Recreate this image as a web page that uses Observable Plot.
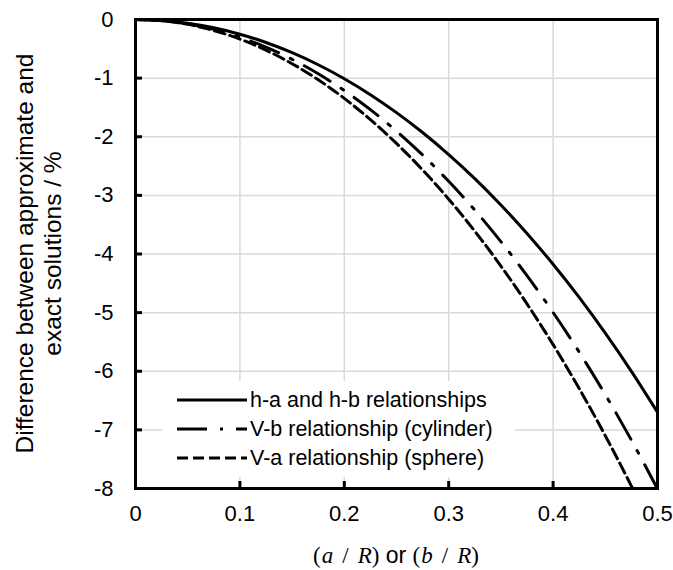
<!DOCTYPE html>
<html><head><meta charset="utf-8">
<script src="https://cdn.jsdelivr.net/npm/d3@7"></script>
<script src="https://cdn.jsdelivr.net/npm/@observablehq/plot@0.6"></script>
<style>
body{margin:0;background:#fff;}
#wrap{position:relative;width:673px;height:570px;font-family:"Liberation Sans",Arial,sans-serif;}
#legend{position:absolute;left:162px;top:381px;width:353px;height:96px;background:#fff;}
.row{position:absolute;left:0;height:28px;display:flex;align-items:center;font-size:21.5px;color:#000;white-space:nowrap;}
.row svg{margin-left:15px;margin-right:3px;}
</style></head><body><div id="wrap"></div>
<script>
// a/R or b/R
const ratio = [0, 0.025, 0.05, 0.075, 0.1, 0.125, 0.15, 0.175, 0.2, 0.225, 0.25, 0.275, 0.3, 0.325, 0.35, 0.375, 0.4, 0.425, 0.45, 0.475, 0.5];
// h-a and h-b relationships (solid)
const hab = [0, -0.016, -0.063, -0.141, -0.251, -0.392, -0.566, -0.772, -1.010, -1.282, -1.588, -1.928, -2.303, -2.714, -3.163, -3.649, -4.174, -4.740, -5.349, -6.001, -6.699];
// V-b relationship (cylinder) (dash-dot)
const vbCyl = [0, -0.019, -0.075, -0.169, -0.301, -0.471, -0.679, -0.926, -1.212, -1.537, -1.904, -2.311, -2.760, -3.251, -3.788, -4.369, -4.997, -5.673, -6.398, -7.175, -8.006];
// V-a relationship (sphere) (dashed)
const vaSph = [0, -0.021, -0.083, -0.188, -0.334, -0.523, -0.754, -1.028, -1.346, -1.708, -2.114, -2.566, -3.065, -3.611, -4.205, -4.850, -5.546, -6.295, -7.099, -7.959, -8.879];
const seriesNames = ["h-a and h-b relationships", "V-b relationship (cylinder)", "V-a relationship (sphere)"];
const xTicks = [0, 0.1, 0.2, 0.3, 0.4, 0.5];
const yTicks = [0, -1, -2, -3, -4, -5, -6, -7, -8];
const yTitle = ["Difference between approximate and", "exact solutions / %"];

const dashes = [null, "30,13,3,13", "11,5"];
const seriesVals = [hab, vbCyl, vaSph];
const rows = seriesVals.map(vals => ratio.map((r, i) => ({x: r, y: vals[i]})));

const W = 673, H = 570, mL = 135, mR = 16, mT = 19, mB = 82;
const innerW = W - mL - mR, innerH = H - mT - mB;

const plot = Plot.plot({
  width: W, height: H,
  marginLeft: mL, marginRight: mR, marginTop: mT, marginBottom: mB,
  style: {fontFamily: "'Liberation Sans', Arial, sans-serif", fontSize: "22px", color: "#000", background: "#fff"},
  x: {domain: [0, 0.5]},
  y: {domain: [-8, 0]},
  marks: [
    Plot.gridX(xTicks, {stroke: "#d9d9d9", strokeOpacity: 1, strokeWidth: 1.5}),
    Plot.gridY(yTicks, {stroke: "#d9d9d9", strokeOpacity: 1, strokeWidth: 1.5}),
    ...rows.map((d, k) => Plot.line(d, {x: "x", y: "y", stroke: "black", strokeWidth: 3,
      strokeDasharray: dashes[k], curve: "catmull-rom", clip: true})),
    Plot.tickX(xTicks, {x: d => d, stroke: "black", strokeWidth: 3, insetTop: innerH - 7}),
    Plot.tickY(yTicks, {y: d => d, stroke: "black", strokeWidth: 3, insetRight: innerW - 7}),
    Plot.frame({stroke: "black", strokeWidth: 3}),
    Plot.axisX(xTicks, {tickSize: 0, tickPadding: 17, tickFormat: d => String(d), label: null, fill: "#000"}),
    Plot.axisY(yTicks, {tickSize: 0, tickPadding: 22, tickFormat: d => String(d), label: null, fill: "#000"})
  ]
});

const wrap = document.getElementById("wrap");
wrap.appendChild(plot);

const svg = d3.select(plot);
// x title
const xt = svg.append("text").attr("x", mL + innerW / 2).attr("y", 563)
  .attr("text-anchor", "middle").attr("font-size", 23).attr("fill", "#000");
const serif = "'Liberation Serif', 'DejaVu Serif', serif";
const sans = "'Liberation Sans', Arial, sans-serif";
[["(", serif, "normal", 0], ["a", serif, "italic", 1], ["/", serif, "normal", 9], ["R", serif, "italic", 9], [")", serif, "normal", 0],
 [" or ", sans, "normal", 0],
 ["(", serif, "normal", 0], ["b", serif, "italic", 1], ["/", serif, "normal", 9], ["R", serif, "italic", 9], [")", serif, "normal", 0]]
 .forEach(([t, f, s, dx]) => xt.append("tspan").attr("font-family", f).attr("font-style", s).attr("dx", dx).text(t));
// y title
const yg = svg.append("g").attr("transform", "rotate(-90)");
yTitle.forEach((t, i) => yg.append("text").attr("x", -(mT + innerH / 2)).attr("y", 33 + i * 28)
  .attr("text-anchor", "middle").attr("font-size", 24.5).attr("fill", "#000").text(t));

// legend
const leg = document.createElement("div");
leg.id = "legend";
wrap.appendChild(leg);
seriesNames.forEach((name, k) => {
  const row = document.createElement("div");
  row.className = "row";
  row.style.top = (5 + k * 29) + "px";
  const ns = "http://www.w3.org/2000/svg";
  const s = document.createElementNS(ns, "svg");
  s.setAttribute("width", 70); s.setAttribute("height", 10);
  const ln = document.createElementNS(ns, "line");
  ln.setAttribute("x1", 0); ln.setAttribute("x2", 70); ln.setAttribute("y1", 5); ln.setAttribute("y2", 5);
  ln.setAttribute("stroke", "black"); ln.setAttribute("stroke-width", 3);
  if (dashes[k]) ln.setAttribute("stroke-dasharray", dashes[k]);
  s.appendChild(ln);
  row.appendChild(s);
  const sp = document.createElement("span");
  sp.textContent = name;
  row.appendChild(sp);
  leg.appendChild(row);
});
</script>
</body></html>
